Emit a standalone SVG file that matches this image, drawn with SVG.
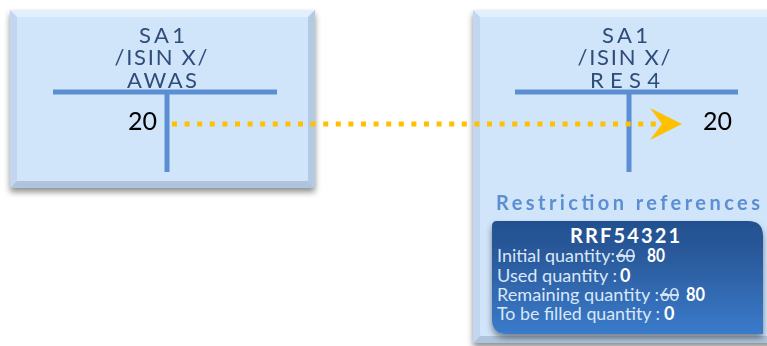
<svg xmlns="http://www.w3.org/2000/svg" width="767" height="346" viewBox="0 0 767 346">
<defs>
<filter id="sh" x="-10%" y="-10%" width="120%" height="125%">
<feGaussianBlur in="SourceAlpha" stdDeviation="3"/>
<feOffset dx="0" dy="4" result="b"/>
<feComponentTransfer><feFuncA type="linear" slope="0.45"/></feComponentTransfer>
<feMerge><feMergeNode/><feMergeNode in="SourceGraphic"/></feMerge>
</filter>
<linearGradient id="dk" x1="0" y1="0" x2="0" y2="1">
<stop offset="0" stop-color="#23508f"/>
<stop offset="0.35" stop-color="#2b5c9e"/>
<stop offset="1" stop-color="#3a7bcb"/>
</linearGradient>
<marker id="ah" markerWidth="34" markerHeight="34" refX="12" refY="16" orient="auto" markerUnits="userSpaceOnUse">
<polygon points="0,0 32,16 0,32 12,16" fill="#ffc000"/>
</marker>
</defs>
<style>
.box{fill:#d0e4fa}
.bt{fill:#e2effd}
.bl{fill:#c2d7ef}
.br{fill:#b4c9e2}
.bb{fill:#aec3dc}
.hd{font-family:Lato,"Liberation Sans",sans-serif;font-size:22px;fill:#2e4d78;text-anchor:middle}
.tl{stroke:#5b8fd2;stroke-width:5;fill:none}
.num{font-family:Lato,"Liberation Sans",sans-serif;font-size:25px;fill:#000}
.rt{font-family:Lato,"Liberation Sans",sans-serif;font-size:20px;font-weight:bold;fill:#5b8fd2}
.rr{font-family:Lato,"Liberation Sans",sans-serif;font-size:20px;font-weight:bold;fill:#fff}
.q{font-family:Lato,"Liberation Sans",sans-serif;font-size:18px;fill:#dbe7f7}
.qb{font-family:Lato,"Liberation Sans",sans-serif;font-size:18px;font-weight:bold;fill:#fff}
</style>
<g id="node-awas" filter="url(#sh)">
<rect class="box" x="10" y="10" width="305" height="178"/>
<polygon class="bt" points="10,10 315,10 308,17 17,17"/>
<polygon class="bl" points="10,10 17,17 17,181 10,188"/>
<polygon class="br" points="315,10 315,188 308,181 308,17"/>
<polygon class="bb" points="10,188 315,188 308,181 17,181"/>
<rect class="box" x="17" y="17" width="291" height="164"/>
<text class="hd" x="162" y="43" textLength="46" lengthAdjust="spacing">SA1</text>
<text class="hd" x="161" y="65" textLength="93" lengthAdjust="spacing">/ISIN X/</text>
<text class="hd" x="162" y="88" textLength="70" lengthAdjust="spacing">AWAS</text>
<line class="tl" x1="53" y1="92" x2="277" y2="92"/>
<line class="tl" x1="167" y1="92" x2="167" y2="172"/>
<text class="num" x="157" y="130" text-anchor="end">20</text>
</g>
<g id="node-res4" filter="url(#sh)">
<rect class="box" x="473" y="10" width="310" height="333"/>
<polygon class="bt" points="473,10 783,10 776,17 480,17"/>
<polygon class="bl" points="473,10 480,17 480,336 473,343"/>
<polygon class="bb" points="473,343 783,343 776,336 480,336"/>
<rect class="box" x="480" y="17" width="296" height="319"/>
<text class="hd" x="625" y="43" textLength="46" lengthAdjust="spacing">SA1</text>
<text class="hd" x="624" y="65" textLength="93" lengthAdjust="spacing">/ISIN X/</text>
<text class="hd" x="625" y="88" textLength="70" lengthAdjust="spacing">RES4</text>
<line class="tl" x1="515" y1="92" x2="738" y2="92"/>
<line class="tl" x1="629" y1="92" x2="629" y2="172"/>
<text class="num" x="703" y="130">20</text>
<text class="rt" x="496" y="210" textLength="264" lengthAdjust="spacing">Restriction references</text>
</g>
<g id="node-rrf">
<path d="M497,221 H748 Q763,221 763,236 V334 H507 Q492,334 492,319 V226 Q492,221 497,221 Z" fill="url(#dk)" filter="url(#sh)"/>
<text class="rr" x="570" y="243" textLength="110" lengthAdjust="spacing">RRF54321</text>
<text class="q" x="497" y="262" textLength="118" lengthAdjust="spacingAndGlyphs">Initial quantity:</text>
<text class="q" x="616" y="262" textLength="19" lengthAdjust="spacingAndGlyphs" text-decoration="line-through">60</text>
<text class="qb" x="647" y="262" textLength="18" lengthAdjust="spacingAndGlyphs">80</text>
<text class="q" x="497" y="282" textLength="120" lengthAdjust="spacingAndGlyphs">Used quantity :</text>
<text class="qb" x="620" y="282">0</text>
<text class="q" x="497" y="301" textLength="162" lengthAdjust="spacingAndGlyphs">Remaining quantity :</text>
<text class="q" x="660" y="301" textLength="19" lengthAdjust="spacingAndGlyphs" text-decoration="line-through">60</text>
<text class="qb" x="686" y="301" textLength="19" lengthAdjust="spacingAndGlyphs">80</text>
<text class="q" x="497" y="320" textLength="163" lengthAdjust="spacingAndGlyphs">To be filled quantity :</text>
<text class="qb" x="664" y="320">0</text>
</g>
<g id="connectors">
<line x1="172" y1="124" x2="662" y2="124" stroke="#ffc000" stroke-width="5" stroke-dasharray="5 7.6" marker-end="url(#ah)"/>
</g>
</svg>
